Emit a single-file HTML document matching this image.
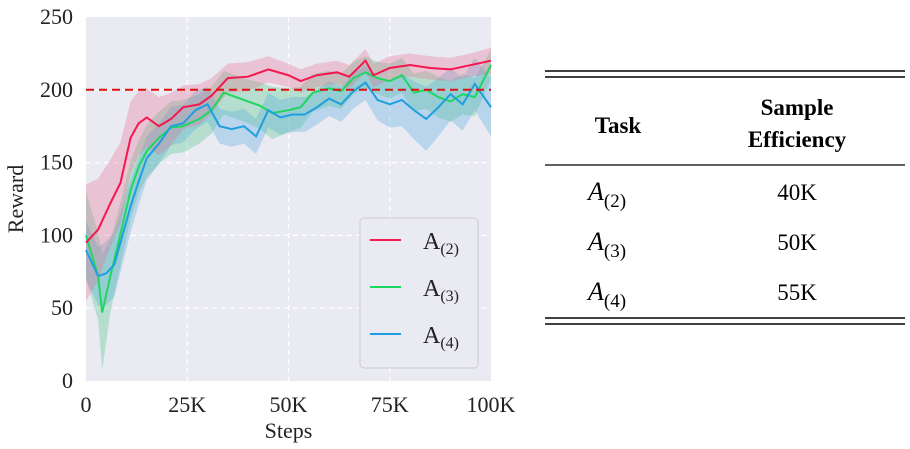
<!DOCTYPE html>
<html><head><meta charset="utf-8"><style>
body{margin:0;background:#fff;width:910px;height:449px;overflow:hidden;font-family:"Liberation Serif",serif}
svg{position:absolute;left:0;top:0}
</style></head><body>
<svg width="910" height="449">
<g id="plot"></g>
<g font-family="Liberation Serif, serif" fill="#000">
<line x1="545" y1="71" x2="905" y2="71" stroke="#000" stroke-width="1.5"/>
<line x1="545" y1="77" x2="905" y2="77" stroke="#000" stroke-width="1.5"/>
<text x="618" y="133" font-size="23" font-weight="bold" text-anchor="middle">Task</text>
<text x="797" y="115" font-size="23" font-weight="bold" text-anchor="middle">Sample</text>
<text x="797" y="147" font-size="23" font-weight="bold" text-anchor="middle">Efficiency</text>
<line x1="545" y1="165" x2="905" y2="165" stroke="#000" stroke-width="1.2"/>
<text x="588" y="200" font-size="26" font-style="italic">A<tspan font-style="normal" font-size="19" dy="7">(2)</tspan></text>
<text x="797" y="200" font-size="23" text-anchor="middle">40K</text>
<text x="588" y="250" font-size="26" font-style="italic">A<tspan font-style="normal" font-size="19" dy="7">(3)</tspan></text>
<text x="797" y="250" font-size="23" text-anchor="middle">50K</text>
<text x="588" y="300" font-size="26" font-style="italic">A<tspan font-style="normal" font-size="19" dy="7">(4)</tspan></text>
<text x="797" y="300" font-size="23" text-anchor="middle">55K</text>
<line x1="545" y1="318" x2="905" y2="318" stroke="#000" stroke-width="1.5"/>
<line x1="545" y1="324" x2="905" y2="324" stroke="#000" stroke-width="1.5"/>
</g>
</svg>
<script>
const stepsA2=[0,3,6,8.5,11,13,15,18,21,24,28,31,35,40,45,50,53,57,62,65,69,71,75,80,85,90,95,100];
const meanA2=[95,104,122,136,167,177,181,175,180,188,190,196,208,209,214,210,206,210,212,209,220,210,215,217,215,214,217,220];
const bandA2=[40,35,30,28,25,22,20,20,18,15,14,12,10,10,9,8,8,8,8,8,8,8,8,8,8,8,8,9];
const stepsA3=[0,3,4,6,8,11,13,15,18,21,24,28,31,34,37,40,43,46,50,53,56,60,63,66,69,72,75,78,81,84,87,90,93,96,100];
const meanA3=[100,72,47,72,95,131,147,158,167,174,175,180,186,198,195,192,189,184,186,188,198,201,199,208,212,208,206,210,198,200,195,192,197,195,217];
const bandA3=[30,30,40,25,22,20,18,18,18,18,18,17,16,15,15,15,16,18,15,14,13,12,12,11,11,11,12,12,13,13,14,14,14,13,10];
const stepsA4=[0,3,5,7,9,11,13,15,18,21,24,27,30,33,36,39,42,45,48,51,54,57,60,63,66,69,72,75,78,81,84,87,90,93,96,100];
const meanA4=[90,72,74,80,100,120,137,153,163,175,177,186,190,175,173,175,168,186,181,183,183,188,194,190,199,205,193,190,193,186,180,188,197,190,204,188];
const bandA4=[20,20,22,22,20,18,16,15,14,13,13,13,12,12,12,12,12,12,12,12,12,12,12,12,12,12,14,16,18,20,22,20,18,18,18,20];
const xTicks=[0,25,50,75,100];
const xTickLabels=["0","25K","50K","75K","100K"];
const yTicks=[0,50,100,150,200,250];
const threshold=200;

const NS="http://www.w3.org/2000/svg";
const L=86,R=491,T=17,B=381;
const X=s=>L+(R-L)*s/100;
const Y=v=>B-(B-T)*v/250;
const g=document.getElementById('plot');
function mk(t,a,p){const e=document.createElementNS(NS,t);for(const k in a)e.setAttribute(k,a[k]);(p||g).appendChild(e);return e;}
const bg=mk('rect',{x:L,y:T,width:R-L,height:B-T,fill:'#eaeaf2'});


xTicks.forEach((t,i)=>{
  if(i>0&&i<xTicks.length-1){const l=mk('line',{x1:X(t),x2:X(t),y1:T,y2:B,stroke:'#fff','stroke-dasharray':'5,4','stroke-width':1.2});
  
  }
  const tx=mk('text',{x:X(t),y:412,'font-size':22,'text-anchor':'middle',fill:'#222'});
  tx.textContent=xTickLabels[i];
  
  
});
yTicks.forEach(t=>{
  if(t>0&&t<250){const l=mk('line',{x1:L,x2:R,y1:Y(t),y2:Y(t),stroke:'#fff','stroke-dasharray':'5,4','stroke-width':1.2});
  
  }
  const tx=mk('text',{x:73,y:Y(t)+7,'font-size':22,'text-anchor':'end',fill:'#222'});
  tx.textContent=String(t);
  
  
});
const xt=mk('text',{x:(L+R)/2,y:438,'font-size':22,'text-anchor':'middle',fill:'#222'});xt.textContent='Steps';


const yt=mk('text',{x:0,y:0,'font-size':22,'text-anchor':'middle',fill:'#222',transform:`translate(23,${(T+B)/2}) rotate(-90)`});yt.textContent='Reward';


const series=[
 {s:stepsA3,m:meanA3,b:bandA3,c:'#1ed760',f:'#3ec27a',n:'a3'},
 {s:stepsA4,m:meanA4,b:bandA4,c:'#1f9ee0',f:'#49a6dc',n:'a4'},
 {s:stepsA2,m:meanA2,b:bandA2,c:'#f5174f',f:'#e8698a',n:'a2'}];
series.forEach(S=>{
  let up=S.s.map((s,i)=>X(s)+','+Y(Math.min(250,S.m[i]+S.b[i]))).join(' ');
  let dn=S.s.map((s,i)=>X(s)+','+Y(Math.max(0,S.m[i]-S.b[i]))).reverse().join(' ');
  const p=mk('polygon',{points:up+' '+dn,fill:S.f,'fill-opacity':0.3});
  
  
});
series.forEach(S=>{
  const l=mk('polyline',{points:S.s.map((s,i)=>X(s)+','+Y(S.m[i])).join(' '),fill:'none',stroke:S.c,'stroke-width':2});
  
  
});
const th=mk('line',{x1:L,x2:R,y1:Y(threshold),y2:Y(threshold),stroke:'#e01010','stroke-width':2,'stroke-dasharray':'8,5'});


const lg=mk('g',{});


mk('rect',{x:360,y:218,width:118,height:150,rx:4,fill:'#eaeaf2',stroke:'#ccc'},lg);
[['#f5174f','2'],['#1ed760','3'],['#1f9ee0','4']].forEach((e,i)=>{
  const y=240+i*47;
  const it=mk('g',{},lg);
  
  
  mk('line',{x1:370,x2:401,y1:y,y2:y,stroke:e[0],'stroke-width':2},it);
  const t=mk('text',{x:423,y:y+9,'font-size':24,fill:'#222'},it);
  t.innerHTML='A<tspan font-size="16" dy="5">('+e[1]+')</tspan>';
});
</script>
</body></html>
